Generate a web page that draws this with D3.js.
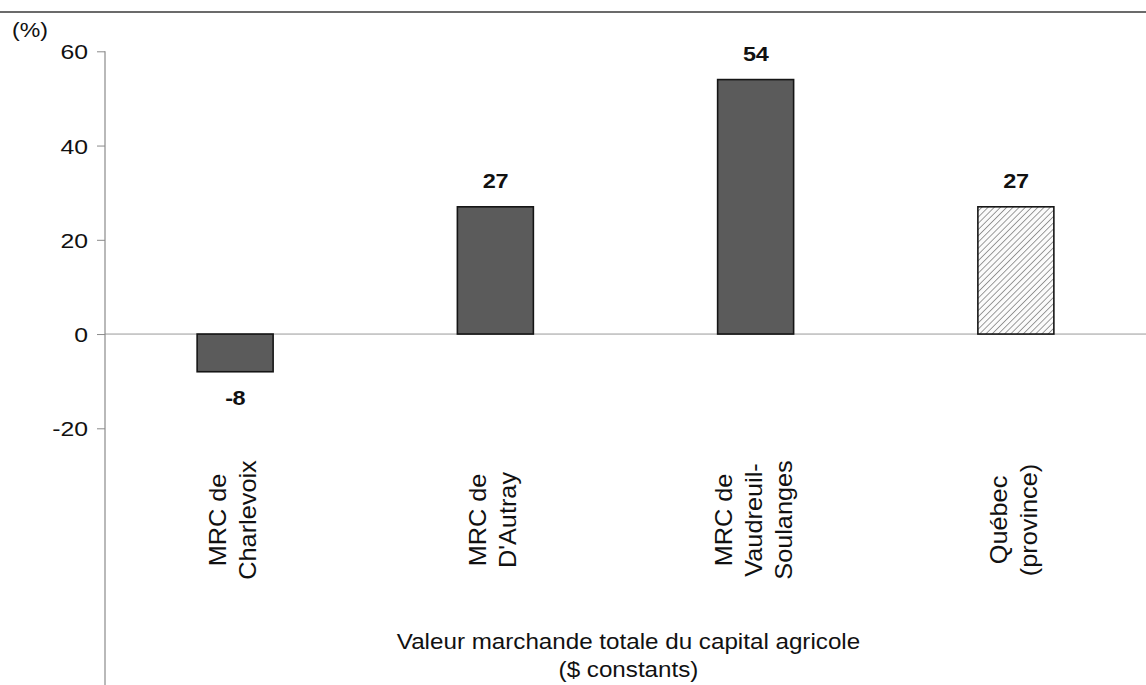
<!DOCTYPE html>
<html>
<head>
<meta charset="utf-8">
<script src="https://cdn.jsdelivr.net/npm/d3@7"></script>
<style>
  html, body { margin: 0; padding: 0; background: #fff; }
  svg { display: block; }
  text { font-family: "Liberation Sans", Arial, sans-serif; fill: #111; }
</style>
</head>
<body>
<svg id="chart" width="1146" height="685"></svg>
<script>
// Variation (%) of the total market value of farm capital, constant dollars
const categories = ["Charlevoix", "D'Autray", "Vaudreuil-Soulanges", "Québec"];
const categoryLines = [
  ["MRC de", "Charlevoix"],
  ["MRC de", "D'Autray"],
  ["MRC de", "Vaudreuil-", "Soulanges"],
  ["Québec", "(province)"]
];
const values = [-8, 27, 54, 27];
const hatched = [false, false, false, true];
const yTicks = [-20, 0, 20, 40, 60];
const yUnit = "(%)";
const xTitle = ["Valeur marchande totale du capital agricole", "($ constants)"];

// plain hyphen for negatives
const fmt = d => String(d);

const svg = d3.select("#chart");
const W = 1146, H = 685;
const plotLeft = 105, plotRight = 1146;

const x = d3.scaleBand()
  .domain(categories)
  .range([plotLeft, plotRight])
  .paddingInner(0.708)
  .paddingOuter(0.354);

const y = d3.scaleLinear().domain([-20, 60]).range([428.3, 51.3]);

// diagonal hatch for the province bar
const defs = svg.append("defs");
defs.append("pattern")
  .attr("id", "hatch")
  .attr("patternUnits", "userSpaceOnUse")
  .attr("width", 4.4).attr("height", 4.4)
  .attr("patternTransform", "rotate(45)")
  .call(p => {
    p.append("rect").attr("width", 4.4).attr("height", 4.4).attr("fill", "#fbfbfb");
    p.append("line").attr("x1", 0).attr("y1", 0).attr("x2", 0).attr("y2", 4.4)
      .attr("stroke", "#6a6a6a").attr("stroke-width", 1.3);
  });

// top rule
svg.append("line")
  .attr("x1", 0).attr("x2", W).attr("y1", 12).attr("y2", 12)
  .attr("stroke", "#3a3a3a").attr("stroke-width", 1.6);

// zero line
svg.append("line")
  .attr("x1", plotLeft).attr("x2", plotRight)
  .attr("y1", y(0)).attr("y2", y(0))
  .attr("stroke", "#9a9a9a").attr("stroke-width", 1);

// y axis
const yAxis = svg.append("g")
  .attr("transform", `translate(${plotLeft},0)`)
  .call(d3.axisLeft(y).tickValues(yTicks).tickSize(8).tickPadding(8).tickFormat(fmt));
yAxis.select(".domain").remove();
yAxis.selectAll(".tick line").attr("stroke", "#8a8a8a");
yAxis.selectAll(".tick text")
  .style("font-family", '"Liberation Sans", Arial, sans-serif')
  .style("font-size", "21px")
  .attr("fill", "#111")
  .attr("x", 0)
  .attr("dy", "0.36em")
  .attr("transform", "translate(-17,0) scale(1.18,1)");
svg.append("line")
  .attr("x1", plotLeft).attr("x2", plotLeft)
  .attr("y1", y(60)).attr("y2", H)
  .attr("stroke", "#8a8a8a").attr("stroke-width", 1.2);

svg.append("text")
  .attr("transform", "translate(12,37) scale(1.1,1)")
  .style("font-size", "21px")
  .text(yUnit);

// bars
const data = categories.map((c, i) => ({ c, v: values[i], h: hatched[i], lines: categoryLines[i] }));

svg.append("g").selectAll("rect")
  .data(data)
  .join("rect")
  .attr("x", d => x(d.c))
  .attr("width", x.bandwidth())
  .attr("y", d => y(Math.max(0, d.v)))
  .attr("height", d => Math.abs(y(d.v) - y(0)))
  .attr("fill", d => d.h ? "url(#hatch)" : "#5b5b5b")
  .attr("stroke", "#151515")
  .attr("stroke-width", 1.6);

// value labels
svg.append("g").selectAll("text")
  .data(data)
  .join("text")
  .attr("transform", d => {
    const ty = d.v >= 0 ? y(d.v) - 19 : y(d.v) + 33;
    return `translate(${x(d.c) + x.bandwidth() / 2},${ty}) scale(1.12,1)`;
  })
  .attr("text-anchor", "middle")
  .style("font-size", "21px")
  .style("font-weight", "bold")
  .style("letter-spacing", "-0.5px")
  .text(d => fmt(d.v));

// rotated category labels
const lineGap = 30;
const catG = svg.append("g").selectAll("text")
  .data(data)
  .join("text")
  .attr("transform", d => `translate(${x(d.c) + x.bandwidth() / 2 + 6},520) rotate(-90) scale(1.1,1)`)
  .attr("text-anchor", "middle")
  .style("font-size", "23px");
catG.selectAll("tspan")
  .data(d => d.lines.map((t, i) => ({ t, off: (i - (d.lines.length - 1) / 2) * lineGap })))
  .join("tspan")
  .attr("x", 0)
  .attr("y", d => d.off)
  .text(d => d.t);

// x-axis title
svg.append("text")
  .attr("transform", `translate(${(plotLeft + plotRight) / 2 + 3},0) scale(1.1,1)`)
  .attr("text-anchor", "middle")
  .style("font-size", "22px")
  .selectAll("tspan")
  .data(xTitle)
  .join("tspan")
  .attr("x", 0)
  .attr("y", (d, i) => 649 + i * 28)
  .text(d => d);
</script>
</body>
</html>
